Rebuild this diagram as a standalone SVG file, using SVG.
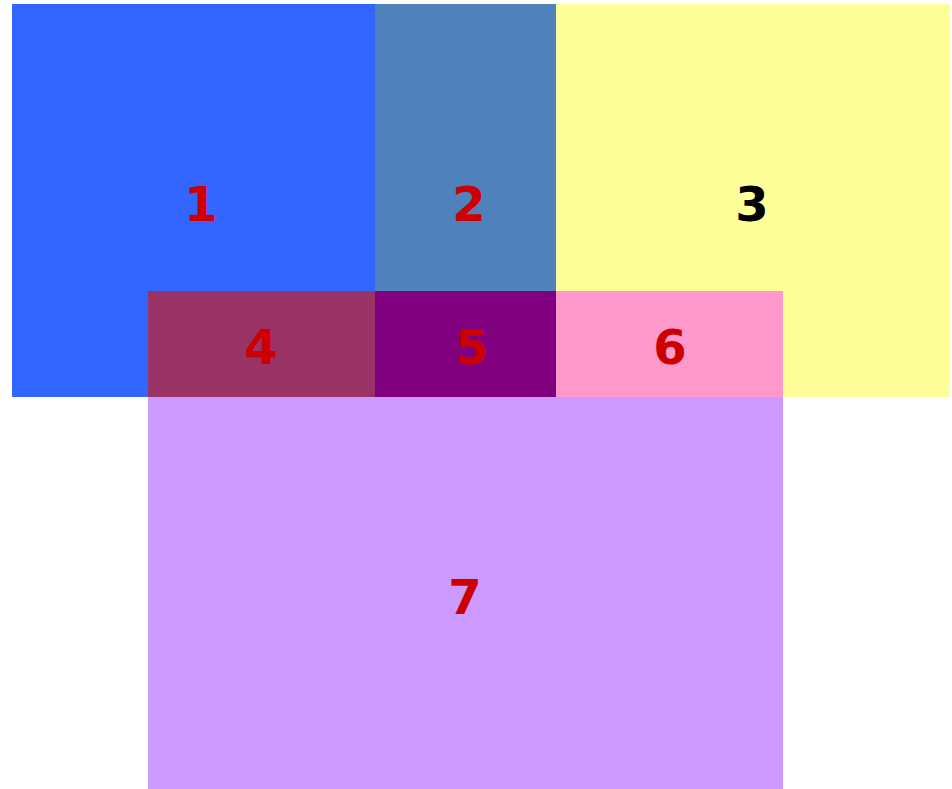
<svg xmlns="http://www.w3.org/2000/svg" width="952" height="789" viewBox="0 0 952 789">
<style>
text{font-family:"DejaVu Sans","Liberation Sans",sans-serif;font-weight:bold;font-size:48px;text-anchor:middle}
.r{fill:#CC0000}.k{fill:#000000}
</style>
<rect width="952" height="789" fill="#FFFFFF"/>
<g id="node1"><rect x="12" y="4" width="363" height="393" fill="#3366FF"/><text class="r" x="201" y="221">1</text></g>
<g id="node2"><rect x="375" y="4" width="181" height="287" fill="#4F81BD"/><text class="r" x="469" y="221">2</text></g>
<g id="node3"><rect x="556" y="4" width="394" height="393" fill="#FFFF99"/><text class="k" x="752" y="221">3</text></g>
<g id="node4"><rect x="148" y="291" width="227" height="106" fill="#993366"/><text class="r" x="261" y="364">4</text></g>
<g id="node5"><rect x="375" y="291" width="181" height="106" fill="#800080"/><text class="r" x="472" y="364">5</text></g>
<g id="node6"><rect x="556" y="291" width="227" height="106" fill="#FF99CC"/><text class="r" x="670" y="364">6</text></g>
<g id="node7"><rect x="148" y="397" width="635" height="392" fill="#CC99FF"/><text class="r" x="465" y="614">7</text></g>
<g id="connectors"/>
</svg>
